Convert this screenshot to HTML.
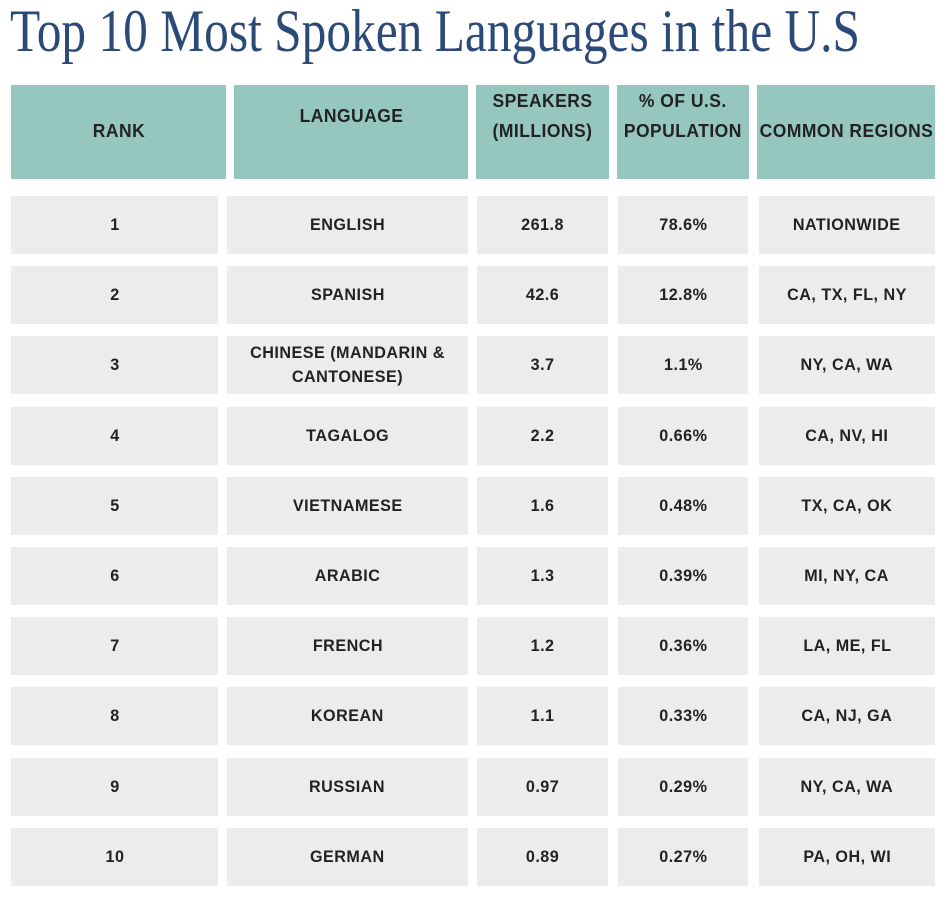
<!DOCTYPE html>
<html><head><meta charset="utf-8">
<style>
html,body{margin:0;padding:0;background:#fff;width:946px;height:897px;overflow:hidden;}
.cell{position:absolute;display:flex;align-items:center;justify-content:center;text-align:center;
font-family:"Liberation Sans",sans-serif;font-weight:bold;color:#222;font-size:17px;line-height:24px;letter-spacing:0.5px;}
.hd{background:#95c7bf;align-items:flex-start;font-size:18px;line-height:30px;}
.bd{background:#ececec;}
.sq{display:inline-block;transform:scaleX(0.95);white-space:nowrap;}
.hd .sq{transform:scaleX(0.97);}
</style></head>
<body>
<svg width="946" height="80" style="position:absolute;left:0;top:0">
<text x="10" y="51" textLength="850" lengthAdjust="spacingAndGlyphs" font-family="Liberation Serif, serif" font-size="60" fill="#2b4a78">Top 10 Most Spoken Languages in the U.S</text>
</svg>
<div id="tbl"></div>
<script>
const headers=["RANK","LANGUAGE","SPEAKERS<br>(MILLIONS)","% OF U.S.<br>POPULATION","COMMON REGIONS"];
const headerPad=[31,16,1,1,31];
const ranks=["1","2","3","4","5","6","7","8","9","10"];
const languages=["ENGLISH","SPANISH","CHINESE (MANDARIN &amp;<br>CANTONESE)","TAGALOG","VIETNAMESE","ARABIC","FRENCH","KOREAN","RUSSIAN","GERMAN"];
const speakers=["261.8","42.6","3.7","2.2","1.6","1.3","1.2","1.1","0.97","0.89"];
const percents=["78.6%","12.8%","1.1%","0.66%","0.48%","0.39%","0.36%","0.33%","0.29%","0.27%"];
const regions=["NATIONWIDE","CA, TX, FL, NY","NY, CA, WA","CA, NV, HI","TX, CA, OK","MI, NY, CA","LA, ME, FL","CA, NJ, GA","NY, CA, WA","PA, OH, WI"];
const colNames=["rank","language","speakers","percent","regions"];
const hx=[[11,226],[234,468],[476,609],[617,749],[757,935]];
const bx=[[11,218],[227,468],[477,608],[618,748],[759,935]];
const tbl=document.getElementById('tbl');
headers.forEach((h,i)=>{
  const d=document.createElement('div');
  d.className='cell hd';
  
  
  d.style.left=hx[i][0]+'px';d.style.width=(hx[i][1]-hx[i][0])+'px';
  d.style.top='85px';d.style.height='94px';
  d.style.paddingTop=headerPad[i]+'px';d.style.boxSizing='border-box';
  d.innerHTML='<span class="sq">'+h+'</span>';
  tbl.appendChild(d);
});
const cols=[ranks,languages,speakers,percents,regions];
for(let r=0;r<ranks.length;r++){
  const top=196+r*70.2;
  cols.forEach((c,i)=>{
    const d=document.createElement('div');
    d.className='cell bd';
    
    
    d.style.left=bx[i][0]+'px';d.style.width=(bx[i][1]-bx[i][0])+'px';
    d.style.top=top+'px';d.style.height='58px';
    d.innerHTML='<span class="sq">'+c[r]+'</span>';
    tbl.appendChild(d);
  });
}
</script>
</body></html>
